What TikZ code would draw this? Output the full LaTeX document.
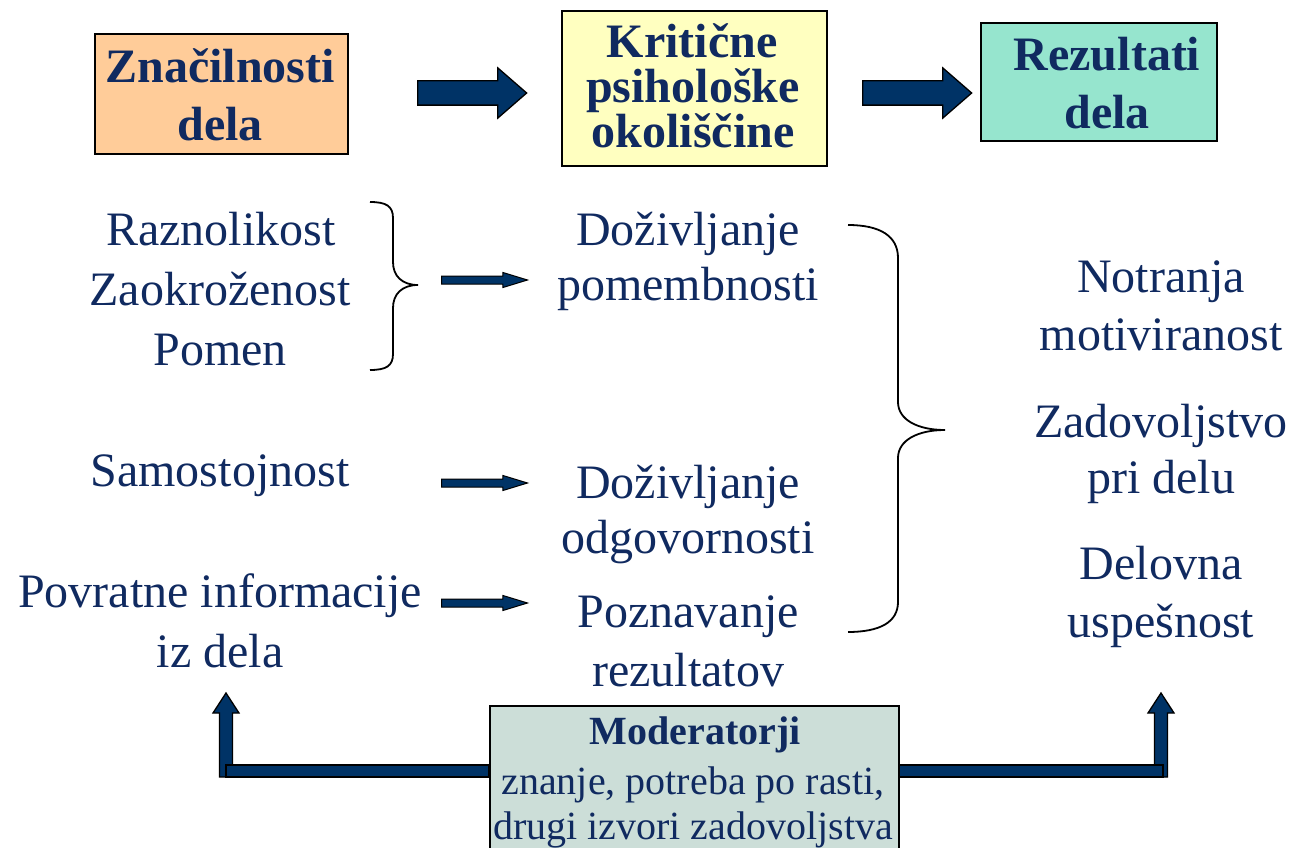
\documentclass[tikz,border=0pt]{standalone}
\usepackage{fontspec}
\setmainfont{Liberation Serif}
\usetikzlibrary{shapes.arrows,calc}
\definecolor{ink}{RGB}{16,42,96}
\definecolor{navy}{RGB}{0,51,102}
\definecolor{orangefill}{RGB}{255,204,153}
\definecolor{yellowfill}{RGB}{255,255,192}
\definecolor{greenfill}{RGB}{150,229,206}
\definecolor{modfill}{RGB}{204,222,216}
\begin{document}
\begin{tikzpicture}[x=1pt,y=-1pt,
  box/.style={draw=black, line width=1.6pt, inner sep=0pt, anchor=north west},
  lbl/.style={anchor=base, text=ink, inner sep=0pt, font=\fontsize{48}{58}\selectfont},
  head/.style={anchor=base, text=ink, inner sep=0pt, font=\bfseries\fontsize{48}{58}\selectfont},
  modtxt/.style={anchor=base, text=ink, inner sep=0pt, font=\fontsize{40}{46}\selectfont},
  bigarrow/.style={single arrow, draw=black, line width=1.3pt, fill=navy, anchor=west,
    inner xsep=0pt, inner ysep=11.5pt, single arrow head extend=13pt,
    single arrow tip angle=82, minimum height=109pt},
  smallarrow/.style={single arrow, draw=black, line width=1pt, fill=navy, anchor=west,
    inner xsep=0pt, inner ysep=3.5pt, single arrow head extend=3.5pt,
    single arrow tip angle=34, minimum height=86pt},
  brace/.style={draw=black, line width=1.8pt},
  bar/.style={draw=black, line width=1.3pt, fill=navy}]
\useasboundingbox (0,0) rectangle (1294,848);

% header boxes
\node[box, fill=orangefill, minimum width=253pt, minimum height=120pt] (b1) at (94,33) {};
\node[box, fill=yellowfill, minimum width=265pt, minimum height=155pt] (b2) at (561,10) {};
\node[box, fill=greenfill, minimum width=236pt, minimum height=118pt] (b3) at (980,22) {};

\node[head] (h1a) at (220,83) {Značilnosti};
\node[head] (h1b) at (220,141) {dela};
\node[head] (h2a) at (692,58) {Kritične};
\node[head] (h2b) at (693,103) {psihološke};
\node[head] (h2c) at (693,148) {okoliščine};
\node[head] (h3a) at (1107,71) {Rezultati};
\node[head] (h3b) at (1107,129) {dela};

% block arrows between the headers
\node[bigarrow] (a12) at (417,93) {};
\node[bigarrow] (a23) at (862,93) {};

% job characteristics
\node[lbl] (raz) at (221,245) {Raznolikost};
\node[lbl] (zao) at (220,305) {Zaokroženost};
\node[lbl] (pom) at (220,365) {Pomen};
\node[lbl] (sam) at (220,486) {Samostojnost};
\node[lbl] (pov) at (220,607) {Povratne informacije};
\node[lbl] (izd) at (220,667) {iz dela};

% critical psychological states
\node[lbl] (d1a) at (688,245) {Doživljanje};
\node[lbl] (d1b) at (688,300) {pomembnosti};
\node[lbl] (d2a) at (688,498) {Doživljanje};
\node[lbl] (d2b) at (688,553) {odgovornosti};
\node[lbl] (d3a) at (688,627) {Poznavanje};
\node[lbl] (d3b) at (688,686) {rezultatov};

% outcomes
\node[lbl] (r1a) at (1161,292) {Notranja};
\node[lbl] (r1b) at (1161,350) {motiviranost};
\node[lbl] (r2a) at (1161,437) {Zadovoljstvo};
\node[lbl] (r2b) at (1161,493) {pri delu};
\node[lbl] (r3a) at (1161,579) {Delovna};
\node[lbl] (r3b) at (1161,637) {uspešnost};

% small arrows
\node[smallarrow] (s1) at (441,280) {};
\node[smallarrow] (s2) at (441,483) {};
\node[smallarrow] (s3) at (441,603) {};

% left brace
\draw[brace] (370,202) .. controls (386,202) and (393,206) .. (393,218)
  -- (393,262) .. controls (393,276) and (402,285) .. (418,285)
  .. controls (402,285) and (393,294) .. (393,308)
  -- (393,354) .. controls (393,366) and (386,370) .. (370,370);

% right brace
\draw[brace] (848,225) .. controls (880,225) and (898,236) .. (898,258)
  -- (898,402) .. controls (898,420) and (918,430) .. (945,430)
  .. controls (918,430) and (898,440) .. (898,458)
  -- (898,602) .. controls (898,622) and (880,632) .. (848,632);

% moderators
\node[box, fill=modfill, minimum width=409pt, minimum height=150pt] (mod) at (489,705) {};
\node[modtxt, font=\bfseries\fontsize{40}{46}\selectfont] (m1) at (695,744) {Moderatorji};
\node[modtxt] (m2) at (693,794) {znanje, potreba po rasti,};
\node[modtxt] (m3) at (693,839) {drugi izvori zadovoljstva};

% feedback arrows from the moderator box
\coordinate (ltip) at (226,693);
\coordinate (rtip) at (1161,693);
\filldraw[bar] ($(ltip)+(-6.5,84)$) -- ($(ltip)+(-6.5,20)$) -- ($(ltip)+(-13,20)$) -- (ltip)
  -- ($(ltip)+(13,20)$) -- ($(ltip)+(6.5,20)$) -- ($(ltip)+(6.5,84)$) -- cycle;
\filldraw[bar] ($(ltip)+(0,72)$) rectangle ($(mod.west |- ltip)+(0,84)$);
\filldraw[bar] ($(rtip)+(-6.5,84)$) -- ($(rtip)+(-6.5,20)$) -- ($(rtip)+(-13,20)$) -- (rtip)
  -- ($(rtip)+(13,20)$) -- ($(rtip)+(6.5,20)$) -- ($(rtip)+(6.5,84)$) -- cycle;
\filldraw[bar] ($(mod.east |- rtip)+(0,72)$) rectangle ($(rtip)+(2,84)$);
\end{tikzpicture}
\end{document}
